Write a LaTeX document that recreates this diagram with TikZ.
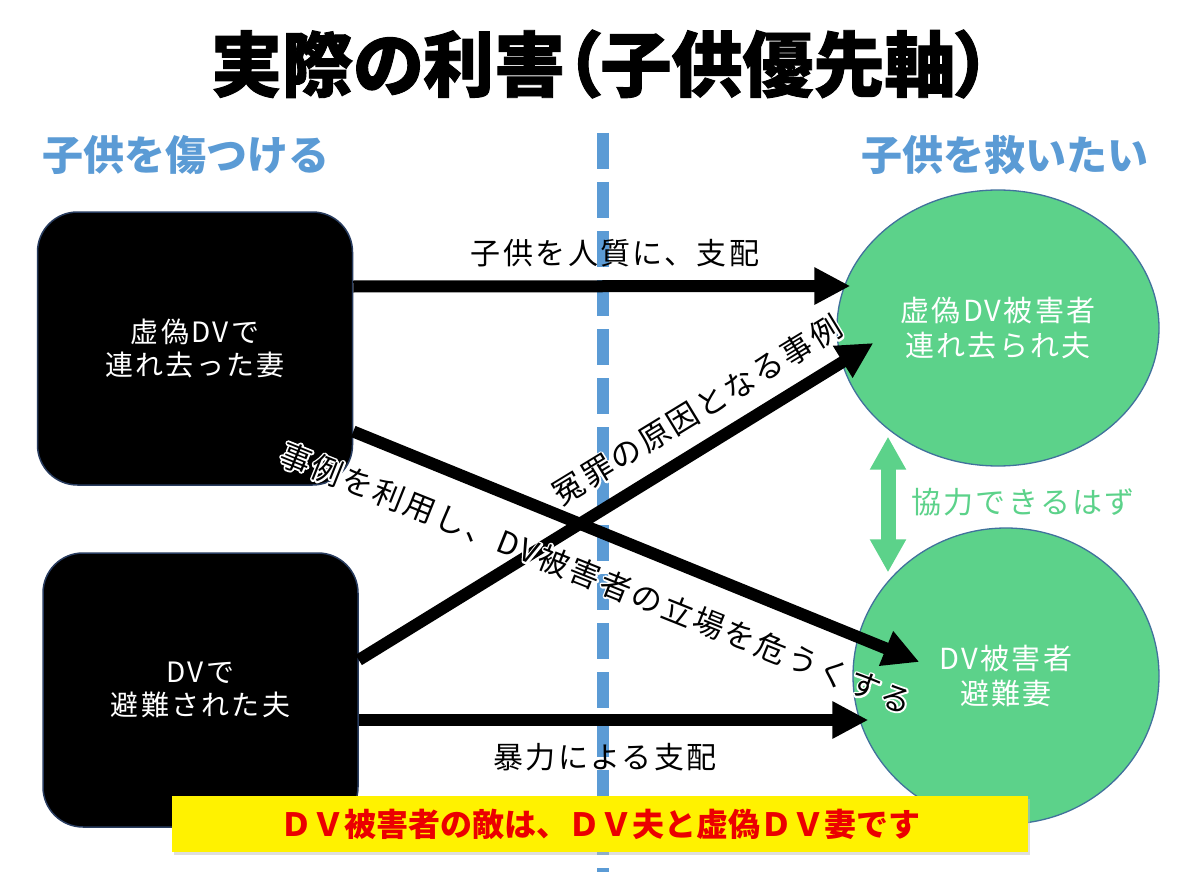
\documentclass[tikz,border=0pt]{standalone}
\usepackage{fontspec}
\setmainfont{Noto Sans CJK JP}
\newfontfamily\jpsp[LetterSpace=8]{Noto Sans CJK JP}
\newfontfamily\titlefont[RawFeature=+palt, BoldFeatures={FakeBold=1.3}]{Noto Sans CJK JP}
\newcommand{\halotext}[1]{\rlap{\special{pdf:literal direct 2 Tr 1 j 1 1 1 RG 1 1 1 rg 3.6 w}#1\special{pdf:literal direct 0 Tr 0 j 0 0 0 rg 0 0 0 RG}}#1}
\usetikzlibrary{arrows.meta,shadows,calc,shapes.geometric}
\definecolor{hblue}{RGB}{91,155,213}
\definecolor{egreen}{RGB}{92,210,138}
\definecolor{eline}{RGB}{65,113,156}
\definecolor{bline}{RGB}{40,60,95}
\definecolor{bred}{RGB}{235,0,0}
\tikzset{
  titletext/.style={font=\titlefont\fontsize{71}{78}\selectfont\bfseries, text=black},
  headtext/.style={font=\fontsize{41}{46}\selectfont\bfseries, text=hblue},
  blackbox/.style={draw=bline, line width=1.5pt, fill=black, rounded corners=40pt,
    text=white, align=center, font=\jpsp\fontsize{28}{33}\selectfont},
  greenell/.style={ellipse, draw=eline, line width=1.3pt, fill=egreen,
    text=white, align=center, font=\jpsp\fontsize{29}{35}\selectfont, inner sep=0pt},
  bigarrow/.style={line width=12pt, draw=black, -{Triangle[length=36pt,width=35pt]}},
  lbltext/.style={font=\jpsp\fontsize{30}{33}\selectfont, text=black, inner sep=1pt},
  slanttext/.style={font=\jpsp\fontsize{31}{34}\selectfont, text=black, inner sep=1pt},
  dashline/.style={draw=hblue, line width=12pt, dash pattern=on 36pt off 13pt},
  greenarrow/.style={line width=15pt, draw=egreen,
    {Triangle[length=33pt,width=34pt]}-{Triangle[length=33pt,width=34pt]}},
  banner/.style={fill=yellow, minimum width=856pt, minimum height=56pt, inner sep=0pt,
    drop shadow={shadow xshift=2pt, shadow yshift=-3pt, fill=black!25},
    font=\fontsize{32}{36}\selectfont\bfseries, text=bred},
}
\begin{document}
\begin{tikzpicture}[x=1pt,y=-1pt]
\useasboundingbox[fill=white] (0,0) rectangle (1200,872);

% title and headings
\node[titletext] (title) at (601,64) {実際の利害（子供優先軸）};
\node[headtext] (h1) at (186,155) {子供を傷つける};
\node[headtext] (h2) at (1005,155) {子供を救いたい};

% dashed divider
\coordinate (dtop) at (603,133);
\coordinate (dbot) at (603,872);
\draw[dashline] (dtop) -- (dbot);

% boxes and ellipses
\node[blackbox, minimum width=315pt, minimum height=273pt] (b1) at (195,348.5) {虚偽DVで\\連れ去った妻};
\node[blackbox, minimum width=315pt, minimum height=274pt] (b2) at (200.5,690) {DVで\\避難された夫};
\node[greenell, minimum width=322pt, minimum height=276pt] (e1) at (998,328) {虚偽DV被害者\\連れ去られ夫};
\node[greenell, minimum width=306pt, minimum height=296pt] (e2) at (1006,676) {DV被害者\\避難妻};

% arrows
\draw[bigarrow] ([yshift=62pt]b1.east) -- ([xshift=14pt,yshift=42pt]e1.west);
\draw[bigarrow] ([yshift=-30pt]b2.east) -- ([xshift=16pt,yshift=-44pt]e2.west);
\draw[bigarrow] ([yshift=30pt]b2.east) -- ([xshift=37pt,yshift=-15pt]e1.west);
\draw[bigarrow] ([yshift=-83pt]b1.east) -- ([xshift=67pt,yshift=14pt]e2.west);

% labels
\node[lbltext] (l1) at (615,253) {子供を人質に、支配};
\node[lbltext] (l2) at (605,757) {暴力による支配};
\node[slanttext, rotate=31.4] (l3) at (697,410) {\halotext{冤罪の原因となる事例}};
\node[slanttext, rotate=-21.8] (l4) at (596,578) {\halotext{事例を利用し、DV被害者の立場を危うくする}};

% cooperation arrow
\draw[greenarrow] ([xshift=-110pt,yshift=30pt]e1.south) -- ([xshift=-118pt,yshift=-45pt]e2.north);
\node[font=\jpsp\fontsize{30}{34}\selectfont, text=egreen] (coop) at (1023,502) {協力できるはず};

% banner
\node[banner] (bn) at (600,824) {ＤＶ被害者の敵は、ＤＶ夫と虚偽ＤＶ妻です};
\end{tikzpicture}
\end{document}
